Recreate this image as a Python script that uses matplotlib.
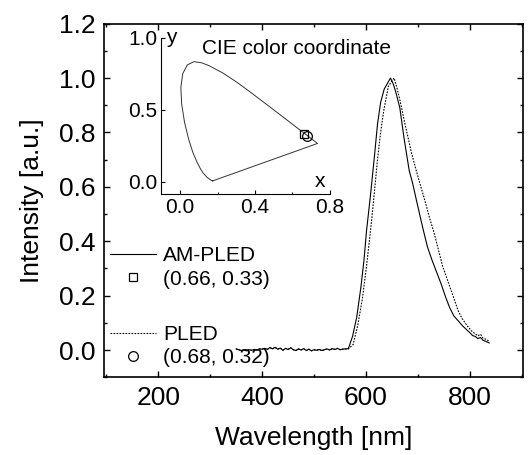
import matplotlib
matplotlib.use("Agg")
import matplotlib.pyplot as plt
from matplotlib.ticker import MultipleLocator

plt.rcParams["font.family"] = ["Liberation Sans", "DejaVu Sans"]

# baseline (shared by both spectra below ~565 nm)
base_wl = [350, 355, 360, 365, 370, 375, 380, 385, 390, 395, 400, 405, 410,
           415, 420, 425, 430, 435, 440, 445, 450, 455, 460, 465, 470, 475,
           480, 485, 490, 495, 500, 505, 510, 515, 520, 525, 530, 535, 540,
           545, 550, 555, 560]
base_int = [0.004, 0.001, -0.002, 0.000, -0.003, 0.001, -0.001, 0.002, 0.000,
            0.004, 0.003, 0.006, 0.002, 0.009, 0.004, 0.010, 0.003, 0.007,
            -0.001, 0.006, 0.002, 0.008, 0.001, -0.002, 0.004, 0.000, 0.005,
            -0.002, 0.003, -0.003, 0.001, -0.001, 0.002, -0.002, 0.001, 0.004,
            0.000, 0.005, 0.002, 0.006, 0.001, 0.003, 0.004]

am_wl = [566, 574, 582, 590, 596, 601, 608, 616, 622, 628, 635, 641, 647, 652,
         657, 665, 673, 683, 690, 697, 703, 709, 718, 727, 737, 745, 753, 761,
         769, 777, 785, 795, 800, 805, 810, 815, 820, 825, 830, 837]
am_int = [0.005, 0.05, 0.12, 0.23, 0.33, 0.44, 0.56, 0.71, 0.83, 0.91, 0.96,
          0.98, 1.00, 0.98, 0.95, 0.89, 0.78, 0.66, 0.61, 0.55, 0.50, 0.45,
          0.38, 0.33, 0.28, 0.24, 0.195, 0.155, 0.125, 0.108, 0.09, 0.072,
          0.063, 0.053, 0.050, 0.042, 0.046, 0.036, 0.032, 0.026]

pled_wl = [566, 575, 584, 593, 601, 608, 613, 618, 622, 628, 634, 643, 650, 654,
           660, 665, 675, 688, 698, 707, 716, 723, 731, 739, 747, 758, 769, 777,
           785, 795, 800, 805, 810, 815, 820, 825, 830, 837]
pled_int = [0.004, 0.02, 0.09, 0.19, 0.31, 0.43, 0.52, 0.62, 0.70, 0.80, 0.88,
            0.97, 0.99, 1.00, 0.96, 0.92, 0.83, 0.72, 0.65, 0.59, 0.53, 0.48,
            0.43, 0.37, 0.31, 0.25, 0.19, 0.145, 0.115, 0.088, 0.077, 0.066,
            0.060, 0.052, 0.058, 0.044, 0.040, 0.032]

# CIE 1931 spectral locus (380 -> 700 nm), closed by the purple line
cie_x = [0.1741, 0.1714, 0.1644, 0.1566, 0.1440, 0.1241, 0.1096, 0.0913,
         0.0687, 0.0454, 0.0235, 0.0082, 0.0039, 0.0139, 0.0389, 0.0743,
         0.1142, 0.1547, 0.2296, 0.3016, 0.3731, 0.4441, 0.5125, 0.5752,
         0.6270, 0.6915, 0.7190, 0.7347, 0.1741]
cie_y = [0.0050, 0.0051, 0.0109, 0.0177, 0.0297, 0.0578, 0.0868, 0.1327,
         0.2007, 0.2950, 0.4127, 0.5384, 0.6548, 0.7502, 0.8120, 0.8338,
         0.8262, 0.8059, 0.7543, 0.6923, 0.6245, 0.5547, 0.4866, 0.4242,
         0.3725, 0.3083, 0.2809, 0.2653, 0.0050]

am_cie = (0.66, 0.33)
pled_cie = (0.68, 0.32)

fig = plt.figure(figsize=(5.31, 4.55), dpi=100)
ax = fig.add_axes([0.196, 0.171, 0.789, 0.777])

am_line, = ax.plot(base_wl + am_wl, base_int + am_int, color="black", lw=0.8)
pled_line, = ax.plot(base_wl + pled_wl, base_int + pled_int, color="black",
                     lw=0.8, ls=(0, (1.5, 1.2)))

ax.set_xlim(96, 902)
ax.set_ylim(-0.1, 1.2)
ax.xaxis.set_major_locator(MultipleLocator(200))
ax.xaxis.set_minor_locator(MultipleLocator(100))
ax.yaxis.set_major_locator(MultipleLocator(0.2))
ax.yaxis.set_minor_locator(MultipleLocator(0.1))
ax.yaxis.set_major_formatter(plt.FuncFormatter(lambda v, p: f"{v:.1f}"))
ax.tick_params(which="both", direction="in", top=True, right=True,
               labelsize=19, width=1.0)
ax.tick_params(which="major", length=4.5, pad=6)
ax.tick_params(which="minor", length=2.5)
for s in ax.spines.values():
    s.set_linewidth(1.2)
ax.set_xlabel("Wavelength [nm]", fontsize=19, labelpad=12)
ax.set_ylabel("Intensity [a.u.]", fontsize=19, labelpad=11)

# inset: CIE chromaticity diagram
ins = fig.add_axes([0.304, 0.574, 0.317, 0.343])
ins.plot(cie_x, cie_y, color="#333333", lw=0.7)
sq, = ins.plot([am_cie[0]], [am_cie[1]], ls="none", marker="s", ms=6,
               mfc="none", mec="black", mew=0.9)
ci, = ins.plot([pled_cie[0]], [pled_cie[1]], ls="none", marker="o", ms=7,
               mfc="none", mec="black", mew=0.9)
ins.set_xlim(-0.1, 0.8)
ins.set_ylim(-0.085, 1.0)
ins.set_xticks([0.0, 0.4, 0.8])
ins.set_yticks([0.0, 0.5, 1.0])
ins.xaxis.set_minor_locator(MultipleLocator(0.2))
ins.spines["top"].set_visible(False)
ins.spines["right"].set_visible(False)
for s in ("left", "bottom"):
    ins.spines[s].set_linewidth(0.8)
ins.patch.set_alpha(0)
ins.tick_params(which="both", direction="in", labelsize=15, width=0.8, pad=3)
ins.tick_params(which="major", length=3)
ins.tick_params(which="minor", length=1.5)
ins.text(0.03, 1.0, "y", transform=ins.transAxes, fontsize=15, va="center")
ins.text(0.91, 0.08, "x", transform=ins.transAxes, fontsize=15, va="center")
ins.text(0.24, 0.93, "CIE color coordinate", transform=ins.transAxes,
         fontsize=15, va="center")

leg_kw = dict(frameon=False, fontsize=15, handlelength=2.2, handletextpad=0.35,
              labelspacing=0.2, borderpad=0, borderaxespad=0, loc="upper left")
leg1 = ax.legend([am_line, sq], ["AM-PLED", "(0.66, 0.33)"],
                 bbox_to_anchor=(0.014, 0.37), **leg_kw)
ax.add_artist(leg1)
ax.legend([pled_line, ci], ["PLED", "(0.68, 0.32)"],
          bbox_to_anchor=(0.014, 0.148), **leg_kw)

fig.savefig("out.png", dpi=100)
